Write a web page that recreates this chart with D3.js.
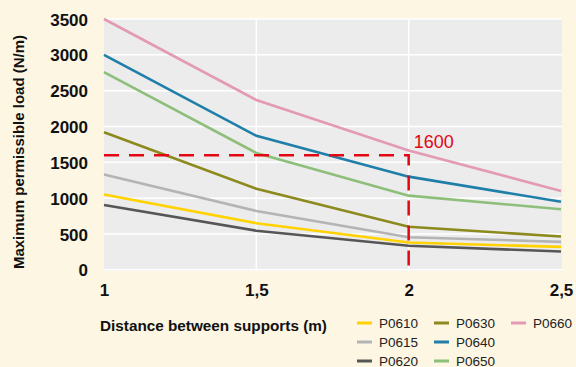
<!DOCTYPE html>
<html><head><meta charset="utf-8">
<script src="https://cdn.jsdelivr.net/npm/d3@7"></script>
<style>
html,body{margin:0;padding:0;background:#fdf6e3;}
svg{display:block;font-family:"Liberation Sans",Arial,Helvetica,sans-serif;}
</style></head>
<body>
<script>
const distances = [1, 1.5, 2, 2.5];
const xTickLabels = ["1", "1,5", "2", "2,5"];
const yTicks = [0, 500, 1000, 1500, 2000, 2500, 3000, 3500];
const seriesNames = ["P0610", "P0615", "P0620", "P0630", "P0640", "P0650", "P0660"];
const P0610 = [1050, 650, 380, 320];
const P0615 = [1330, 820, 455, 390];
const P0620 = [905, 545, 335, 255];
const P0630 = [1920, 1130, 600, 465];
const P0640 = [3000, 1870, 1300, 950];
const P0650 = [2760, 1630, 1035, 845];
const P0660 = [3500, 2370, 1665, 1100];
const seriesColors = ["#ffd200", "#b4b4b4", "#565656", "#8c891d", "#1f7fa9", "#8dbf7b", "#e29ab5"];
const limitValue = 1600;
const limitDistance = 2;

const seriesValues = [P0610, P0615, P0620, P0630, P0640, P0650, P0660];
const W = 576, H = 367;
const svg = d3.select("body").append("svg").attr("width", W).attr("height", H);
svg.append("rect").attr("width", W).attr("height", H).attr("fill", "#fdf6e3");

const x = d3.scaleLinear().domain([1, 2.5]).range([104, 561]);
const y = d3.scaleLinear().domain([0, 3500]).range([269.8, 19]);

svg.append("rect").attr("x", 104).attr("y", 19).attr("width", 458).attr("height", 252).attr("fill", "#ececec");

// grid
svg.append("g").selectAll("line").data(yTicks).join("line")
  .attr("x1", 104).attr("x2", 562).attr("y1", d => y(d)).attr("y2", d => y(d))
  .attr("stroke", "#fff").attr("stroke-width", 1.5);
svg.append("g").selectAll("line").data([1.5, 2]).join("line")
  .attr("x1", d => x(d)).attr("x2", d => x(d)).attr("y1", 19).attr("y2", 271)
  .attr("stroke", "#fff").attr("stroke-width", 1.5);

// y axis labels
const yAxis = d3.axisLeft(y).tickValues(yTicks).tickSize(0).tickPadding(0).tickFormat(d3.format("d"));
const ya = svg.append("g").attr("transform", "translate(88,0)").call(yAxis);
ya.select(".domain").remove();
ya.selectAll("text").attr("font-size", 17).attr("font-weight", "bold").attr("fill", "#111")
  .attr("font-family", "Liberation Sans, Arial, sans-serif").attr("dy", "0.36em");

// x axis labels
const xAxis = d3.axisBottom(x).tickValues(distances).tickSize(0).tickPadding(0)
  .tickFormat((d, i) => xTickLabels[i]);
const xa = svg.append("g").attr("transform", "translate(0,284)").call(xAxis);
xa.select(".domain").remove();
xa.selectAll("text").attr("font-size", 17).attr("font-weight", "bold").attr("fill", "#111")
  .attr("font-family", "Liberation Sans, Arial, sans-serif").attr("dy", "0.72em");

// titles
svg.append("text").attr("x", 100).attr("y", 331).attr("font-size", 15.3).attr("font-weight", "bold")
  .attr("fill", "#111").text("Distance between supports (m)");
svg.append("text").attr("transform", "translate(24,152) rotate(-90)").attr("text-anchor", "middle")
  .attr("font-size", 15).attr("font-weight", "bold").attr("fill", "#111").text("Maximum permissible load (N/m)");

// lines
const line = d3.line().x((d, i) => x(distances[i])).y(d => y(d));
svg.append("g").selectAll("path").data(seriesValues).join("path")
  .attr("d", d => line(d)).attr("fill", "none")
  .attr("stroke", (d, i) => seriesColors[i]).attr("stroke-width", 2.6);

// limit dashed lines
svg.append("path")
  .attr("d", `M${x(1)},${y(limitValue)}H${x(limitDistance)}V${y(0)}`)
  .attr("fill", "none").attr("stroke", "#e30613").attr("stroke-width", 2.5)
  .attr("stroke-dasharray", "15,10");
svg.append("text").attr("x", x(limitDistance) + 5).attr("y", 148).attr("font-size", 18)
  .attr("fill", "#e30613").text(String(limitValue));

// legend
const lg = svg.append("g");
seriesNames.forEach((n, i) => {
  const col = Math.floor(i / 3), row = i % 3;
  const lx = [357, 434, 511][col], ly = 323 + row * 19;
  lg.append("line").attr("x1", lx).attr("x2", lx + 15).attr("y1", ly).attr("y2", ly)
    .attr("stroke", seriesColors[i]).attr("stroke-width", 3);
  lg.append("text").attr("x", lx + 22).attr("y", ly).attr("dy", "0.36em")
    .attr("font-size", 13.5).attr("fill", "#222").text(n);
});
</script>
</body></html>
